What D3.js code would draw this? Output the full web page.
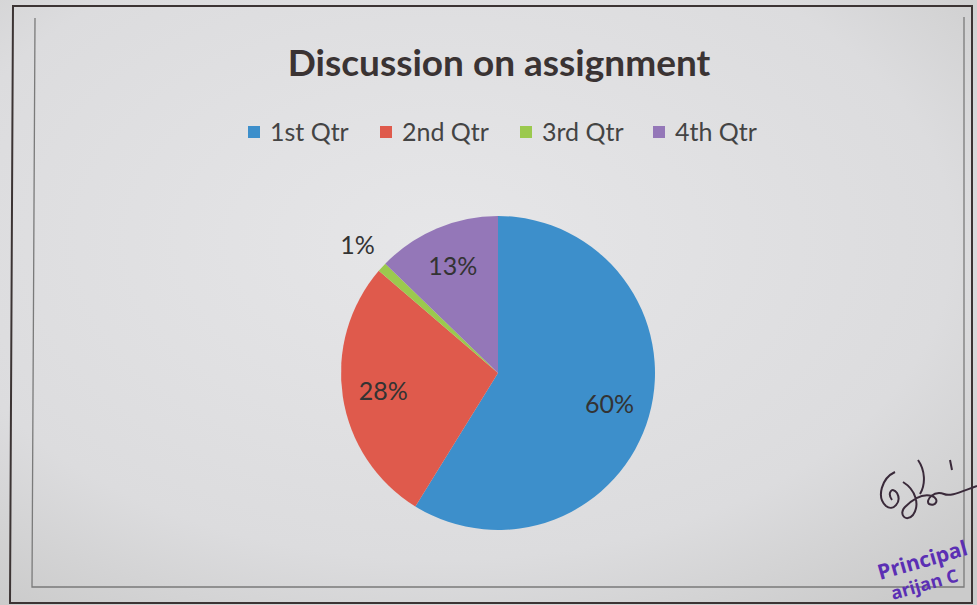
<!DOCTYPE html>
<html>
<head>
<meta charset="utf-8">
<script src="https://cdn.jsdelivr.net/npm/d3@7"></script>
<style>
  html, body { margin: 0; padding: 0; background: #d6d6d6; }
  svg { display: block; }
</style>
</head>
<body>
<div id="chart"></div>
<script>
// chart data
const categories = ["1st Qtr", "2nd Qtr", "3rd Qtr", "4th Qtr"];
const values = [60, 28, 1, 13];
const colors = ["#3d8fcb", "#df5a4c", "#9bc94e", "#9477b8"];
const title = "Discussion on assignment";

const width = 977, height = 605;
const cx = 498, cy = 373, radius = 157;

const svg = d3.select("#chart").append("svg")
  .attr("width", width)
  .attr("height", height);

// paper background with a bit of photo shading
const defs = svg.append("defs");
const grad = defs.append("radialGradient")
  .attr("id", "paper")
  .attr("cx", "45%").attr("cy", "40%").attr("r", "75%");
grad.append("stop").attr("offset", "0%").attr("stop-color", "#e6e6e8");
grad.append("stop").attr("offset", "70%").attr("stop-color", "#dcdcde");
grad.append("stop").attr("offset", "100%").attr("stop-color", "#cbcbcb");

svg.append("rect")
  .attr("width", width).attr("height", height)
  .attr("fill", "url(#paper)");

// outer frame
svg.append("path")
  .attr("d", "M13,6 L972,6 L972,603 L10,603 Z")
  .attr("fill", "none")
  .attr("stroke", "#3c3434")
  .attr("stroke-width", 2);

// inner chart area (left, bottom, right edges visible)
svg.append("path")
  .attr("d", "M35,18 L32,587 L964,587 L964,17")
  .attr("fill", "none")
  .attr("stroke", "#7a7a7a")
  .attr("stroke-width", 1.3);

const font = "Lato, 'Open Sans', sans-serif";

// title
svg.append("text")
  .attr("x", cx + 1)
  .attr("y", 76)
  .attr("text-anchor", "middle")
  .attr("font-family", font)
  .attr("font-weight", "bold")
  .attr("font-size", 37)
  .attr("fill", "#3a3333")
  .text(title);

// legend
const legendX = [248, 380, 520, 653];
const legend = svg.append("g").attr("class", "legend");
categories.forEach((c, i) => {
  const g = legend.append("g").attr("transform", `translate(${legendX[i]}, 132)`);
  g.append("rect")
    .attr("x", 0).attr("y", -6)
    .attr("width", 12).attr("height", 12)
    .attr("fill", colors[i]);
  g.append("text")
    .attr("x", 22).attr("y", 9)
    .attr("font-family", font)
    .attr("font-size", 25)
    .attr("fill", "#444")
    .text(c);
});

// pie
const pie = d3.pie().value(d => d).sort(null);
const arcs = pie(values);

const arc = d3.arc().innerRadius(0).outerRadius(radius);
const labelArc = d3.arc().innerRadius(116).outerRadius(116);
const outsideArc = d3.arc().innerRadius(190).outerRadius(190);

const g = svg.append("g").attr("transform", `translate(${cx}, ${cy})`);

g.selectAll("path")
  .data(arcs)
  .enter().append("path")
  .attr("d", arc)
  .attr("fill", (d, i) => colors[i]);

g.selectAll("text.pct")
  .data(arcs)
  .enter().append("text")
  .attr("class", "pct")
  .attr("transform", d => {
    const small = (d.endAngle - d.startAngle) < 0.2;
    const p = small ? outsideArc.centroid(d) : labelArc.centroid(d);
    return `translate(${p[0]}, ${p[1]})`;
  })
  .attr("dy", "0.35em")
  .attr("text-anchor", "middle")
  .attr("font-family", font)
  .attr("font-size", 25)
  .attr("fill", "#333")
  .text(d => d.data + "%");

// signature and stamp in the corner
svg.append("path")
  .attr("d", "M895,472 C882,478 876,497 886,506 C893,512 902,502 897,493 C892,486 887,493 892,500 M903,482 C916,490 920,505 913,515 C906,523 898,514 905,507 C912,500 922,493 932,496 C940,499 936,507 929,504 C925,500 934,490 944,494 C950,497 960,492 977,486 M918,460 C925,470 926,484 920,494 M950,460 L952,470")
  .attr("fill", "none")
  .attr("stroke", "#3a2a3a")
  .attr("stroke-width", 2);

svg.append("text")
  .attr("transform", "translate(880, 580) rotate(-16)")
  .attr("font-family", "'Open Sans', sans-serif")
  .attr("font-weight", "bold")
  .attr("font-size", 21)
  .attr("fill", "#5b2fb4")
  .text("Principal");

svg.append("text")
  .attr("transform", "translate(893, 600) rotate(-16)")
  .attr("font-family", "'Open Sans', sans-serif")
  .attr("font-weight", "bold")
  .attr("font-size", 18)
  .attr("fill", "#5b2fb4")
  .text("arijan C");
</script>
</body>
</html>
